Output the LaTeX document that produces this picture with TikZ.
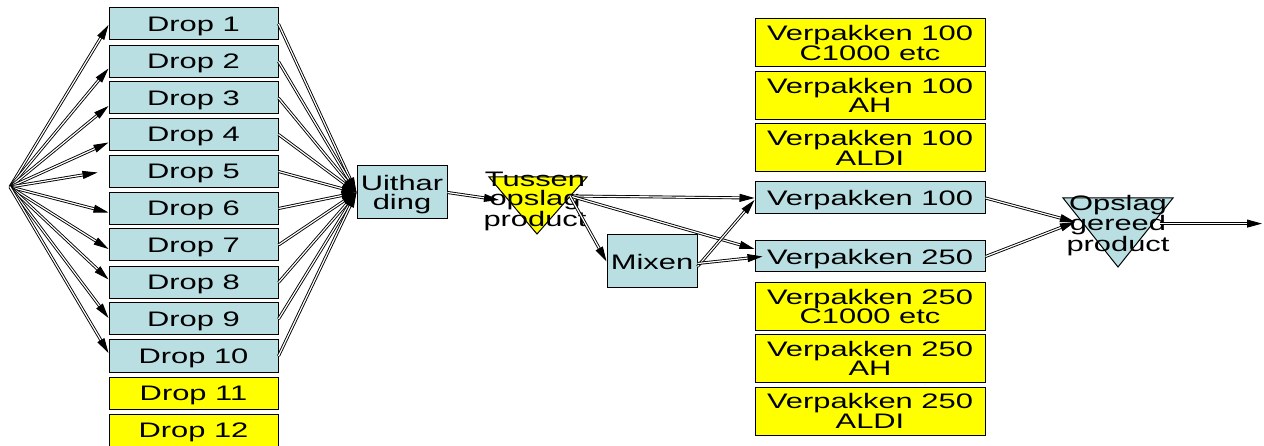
\documentclass[tikz,border=0pt]{standalone}
\usepackage{fontspec}
\setmainfont{Liberation Sans}[FakeStretch=1.47]
\usetikzlibrary{arrows.meta}
\definecolor{boxblue}{RGB}{185,223,227}
\definecolor{boxyellow}{RGB}{255,255,0}
\tikzset{
  base/.style={draw=black, line width=1pt, inner sep=0pt, align=center,
    text depth=0pt, font=\fontsize{21}{19.5}\selectfont},
  bluebox/.style={base, fill=boxblue},
  yellowbox/.style={base, fill=boxyellow},
  dropbox/.style={minimum width=169pt, minimum height=32pt},
  packbox/.style={minimum width=230pt},
  flow/.style={draw=black, line width=0.9pt, double=white, double distance=1.2pt,
    -{Triangle[length=15pt,width=8pt]}},
  label/.style={inner sep=0pt, align=center, text depth=0pt,
    font=\fontsize{21}{19.5}\selectfont},
}
\begin{document}
\begin{tikzpicture}[x=1pt, y=-1pt]
\useasboundingbox (0,0) rectangle (1264,446);

% source point on the left
\coordinate (src) at (10,187);

% drop boxes
\foreach \i/\yy in {1/24, 2/61.5, 3/98, 4/134.5, 5/171.5, 6/208.5, 7/245, 8/282.5, 9/319, 10/356}
  \node[bluebox, dropbox] (d\i) at (193.5,\yy) {Drop \i};
\node[yellowbox, dropbox] (d11) at (193.5,393) {Drop 11};
\node[yellowbox, dropbox] (d12) at (193.5,430) {Drop 12};

% uitharding and mixing
\node[bluebox, minimum width=90pt, minimum height=53pt] (ud) at (402,192.5) {Uithar\\ding};
\node[bluebox, minimum width=90pt, minimum height=53pt] (mix) at (652,261.5) {Mixen};

% intermediate storage (triangle)
\filldraw[fill=boxyellow, draw=black, line width=1pt] (489,177) -- (587,177) -- (537,234) -- cycle;
\node[label] (tus) at (535,199) {Tussen\\opslag\\product};
\coordinate (tin) at (499,200);
\coordinate (tout) at (570,196);

% packaging boxes
\node[yellowbox, packbox, minimum height=48pt] (p100c) at (870,43) {Verpakken 100\\C1000 etc};
\node[yellowbox, packbox, minimum height=48pt] (p100ah) at (870,95.5) {Verpakken 100\\AH};
\node[yellowbox, packbox, minimum height=48pt] (p100al) at (870,148) {Verpakken 100\\ALDI};
\node[bluebox, packbox, minimum height=32pt] (v100) at (870,198) {Verpakken 100};
\node[bluebox, packbox, minimum height=31pt] (v250) at (870,256.5) {Verpakken 250};
\node[yellowbox, packbox, minimum height=48pt] (p250c) at (870,306.5) {Verpakken 250\\C1000 etc};
\node[yellowbox, packbox, minimum height=48pt] (p250ah) at (870,358.5) {Verpakken 250\\AH};
\node[yellowbox, packbox, minimum height=48pt] (p250al) at (870,411) {Verpakken 250\\ALDI};

% finished product storage (triangle)
\filldraw[fill=boxblue, draw=black, line width=1pt] (1063,198) -- (1173,198) -- (1118,267) -- cycle;
\node[label] (og) at (1118,223) {Opslag\\gereed\\product};
\coordinate (gin) at (1075,222);
\coordinate (gout) at (1160,223.6);
\coordinate (outend) at (1262,223.6);

% source to drops
\draw[flow] (src) -- ([yshift=-1pt]d1.west);
\draw[flow] (src) -- ([yshift=-7pt]d2.west);
\draw[flow] (src) -- ([yshift=-8pt]d3.west);
\draw[flow] (src) -- ([yshift=-8pt]d4.west);
\draw[flow] (src) -- ([xshift=-11pt,yshift=-1pt]d5.west);
\draw[flow] (src) -- ([yshift=-4pt]d6.west);
\draw[flow] (src) -- ([yshift=-4pt]d7.west);
\draw[flow] (src) -- ([yshift=3pt]d8.west);
\draw[flow] (src) -- ([yshift=1pt]d9.west);
\draw[flow] (src) -- ([yshift=3pt]d10.west);

% drops to uitharding
\foreach \i in {1,...,10}
  \draw[flow] (d\i.east) -- (ud.west);

% uitharding to storage, storage onwards
\draw[flow] (ud.east) -- (tin);
\draw[flow] (tout) -- (v100.west);
\draw[flow] (tout) -- ([yshift=7.5pt]v250.west);
\draw[flow] (tout) -- (mix.west);
\draw[flow] ([yshift=-5pt]mix.east) -- ([yshift=-2pt]v100.west);
\draw[flow] ([yshift=-2pt]mix.east) -- ([xshift=8pt]v250.west);

% packaging to finished storage
\draw[flow] (v100.east) -- (gin);
\draw[flow] (v250.east) -- (gin);
\draw[flow] (gout) -- (outend);
\end{tikzpicture}
\end{document}
